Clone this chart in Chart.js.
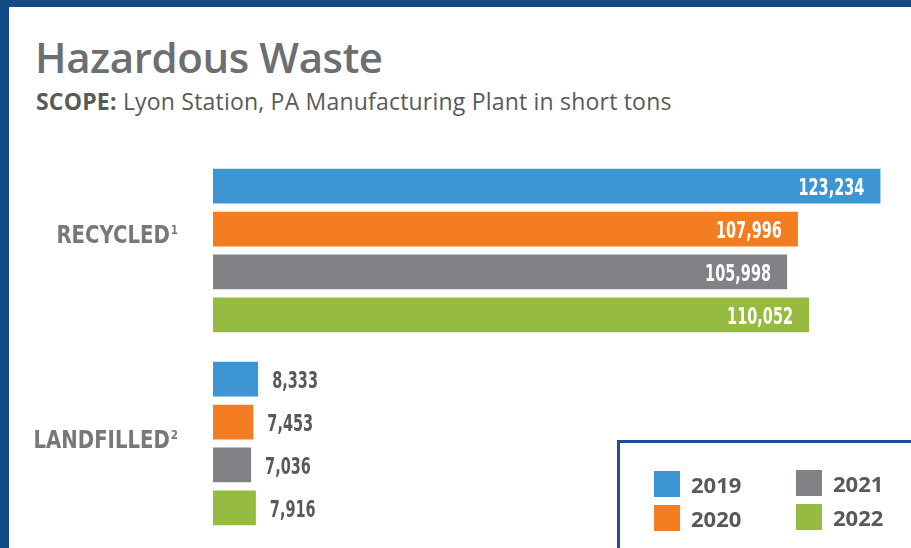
<!DOCTYPE html>
<html>
<head>
<meta charset="utf-8">
<script src="https://cdn.jsdelivr.net/npm/chart.js@4"></script>
<style>
  html, body { margin: 0; padding: 0; }
  body { width: 911px; height: 548px; overflow: hidden; background: #fff; position: relative; }
  #frame { position: absolute; left: 0; top: 0; width: 911px; height: 548px;
    border-left: 9px solid #154a89; border-top: 7px solid #154a89; box-sizing: border-box; }
  #title { position: absolute; left: 35px; top: 28px; font: 600 42px "Open Sans", Lato, sans-serif; color: #6d6e71; letter-spacing: -0.4px; }
  #sub { position: absolute; left: 36px; top: 85px; font: 400 23px "Open Sans", Lato, sans-serif; color: #58595b; letter-spacing: 0.2px; }
  #sub b { font-weight: 700; }
  #myChart { position: absolute; left: 0; top: 0; }
  #legend { position: absolute; left: 617px; top: 440px; width: 310px; height: 120px;
    border: 3px solid #1d4f8c; box-sizing: border-box; }
  .item { position: absolute; display: flex; align-items: center; font: 700 22px "Open Sans", Lato, sans-serif; color: #58595b; }
  .sw { width: 26px; height: 26px; margin-right: 11px; }
</style>
</head>
<body>
<div id="frame"></div>
<div id="title">Hazardous Waste</div>
<div id="sub"><b>SCOPE:</b> Lyon Station, PA Manufacturing Plant in short tons</div>
<canvas id="myChart" width="911" height="548"></canvas>
<div id="legend"></div>
<script>
const categorias = ['RECYCLED', 'LANDFILLED']
const notas = ['1', '2']
const anos = ['2019', '2020', '2021', '2022']
const cores = ['#3d96d3', '#f47c21', '#818285', '#95bb41']
const valores2019 = [123234, 8333]
const valores2020 = [107996, 7453]
const valores2021 = [105998, 7036]
const valores2022 = [110052, 7916]

const series = [valores2019, valores2020, valores2021, valores2022]
const FONTE = '"DejaVu Sans", sans-serif'

// texto "condensado" (nao tem fonte estreita instalada)
function textoEstreito(ctx, txt, x, y, align, sx) {
  const w = ctx.measureText(txt).width * sx
  const x0 = align == 'right' ? x - w : x
  ctx.save()
  ctx.translate(x0, y)
  ctx.scale(sx, 1)
  ctx.textAlign = 'left'
  ctx.fillText(txt, 0, 0)
  ctx.restore()
  return w
}

const rotulos = {
  id: 'rotulos',
  afterDatasetsDraw(chart) {
    const ctx = chart.ctx
    ctx.save()
    ctx.textBaseline = 'alphabetic'
    ctx.font = 'bold 23px ' + FONTE
    chart.data.datasets.forEach((ds, i) => {
      chart.getDatasetMeta(i).data.forEach((bar, j) => {
        const txt = ds.data[j].toLocaleString('en-US')
        if (j == 0) {
          ctx.fillStyle = '#ffffff'
          textoEstreito(ctx, txt, bar.x - 16, bar.y + 9, 'right', 0.63)
        } else {
          ctx.fillStyle = '#58595b'
          textoEstreito(ctx, txt, bar.x + 14, bar.y + 9, 'left', 0.63)
        }
      })
    })
    // rotulos das categorias com nota sobrescrita
    const y = chart.scales.y
    const desloc = [-8, 4]
    categorias.forEach((cat, j) => {
      const py = y.getPixelForTick(j) + desloc[j]
      const xr = y.right - 35
      ctx.fillStyle = '#77787b'
      ctx.font = 'bold 13px ' + FONTE
      const wn = textoEstreito(ctx, notas[j], xr, py - 9, 'right', 0.8)
      ctx.font = 'bold 24px ' + FONTE
      textoEstreito(ctx, cat, xr - wn - 1, py, 'right', 0.82)
    })
    ctx.restore()
  }
}

const data = {
  labels: categorias,
  datasets: anos.map((ano, i) => ({
    label: ano,
    data: series[i],
    backgroundColor: cores[i],
    categoryPercentage: 0.89,
    barPercentage: 0.81
  }))
}

const config = {
  type: 'bar',
  data,
  options: {
    indexAxis: 'y',
    responsive: false,
    animation: false,
    layout: { padding: { top: 154, bottom: 8, left: 0, right: 21 } },
    plugins: { legend: { display: false }, tooltip: { enabled: false } },
    scales: {
      x: { min: 0, max: 125000, display: false },
      y: {
        grid: { display: false, drawTicks: false },
        border: { display: false },
        afterFit(scale) { scale.width = 213 },
        ticks: { display: false }
      }
    }
  },
  plugins: [rotulos]
}

const myChart = new Chart(document.getElementById('myChart'), config)

// legenda em html, duas colunas
const pos = [[34, 26], [34, 60], [176, 25], [176, 59]]
const legenda = document.getElementById('legend')
anos.forEach((ano, i) => {
  const d = document.createElement('div')
  d.className = 'item'
  d.style.left = pos[i][0] + 'px'
  d.style.top = pos[i][1] + 'px'
  d.innerHTML = '<span class="sw" style="background:' + cores[i] + '"></span>' + ano
  legenda.appendChild(d)
})
</script>
</body>
</html>
